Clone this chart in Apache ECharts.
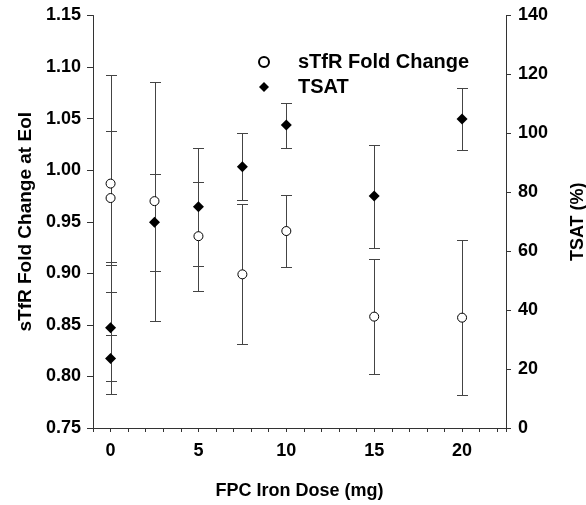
<!DOCTYPE html>
<html>
<head>
<meta charset="utf-8">
<script src="https://cdn.jsdelivr.net/npm/echarts@6/dist/echarts.min.js"></script>
<style>html,body{margin:0;padding:0;background:#fff}#c{width:586px;height:505px}</style>
</head>
<body>
<div id="c"></div>
<script>
// FPC iron dose (mg) for each point
const dose = [0, 0, 2.5, 5, 7.5, 10, 15, 20];
// sTfR fold change at EoI (left axis) and its error
const stfr = [0.987, 0.973, 0.970, 0.936, 0.899, 0.941, 0.858, 0.857];
const stfrErr = [0.105, 0.065, 0.116, 0.053, 0.068, 0.035, 0.056, 0.075];
// TSAT % (right axis) and its error
const tsat = [34.0, 23.6, 69.8, 75.1, 88.7, 102.8, 78.7, 104.9];
const tsatErr = [22.4, 7.8, 16.5, 20.0, 11.3, 7.6, 17.5, 10.5];
// axis ticks
const xTickLabels = [0, 5, 10, 15, 20];
const leftTicks = [0.75, 0.80, 0.85, 0.90, 0.95, 1.00, 1.05, 1.10, 1.15];
const rightTicks = [0, 20, 40, 60, 80, 100, 120, 140];

const FONT = 'Liberation Sans, Arial, sans-serif';
const AX = '#333';
const BAR = '#444';

function errRender(params, api) {
  const x = api.value(0), lo = api.value(1), hi = api.value(2);
  const a = api.coord([x, lo]), b = api.coord([x, hi]);
  const cx = Math.round(a[0]) + 0.5;
  const yl = Math.round(a[1]) + 0.5, yh = Math.round(b[1]) + 0.5;
  const w = 5.5;
  const st = { stroke: BAR, lineWidth: 1 };
  return {
    type: 'group',
    children: [
      { type: 'line', shape: { x1: cx, y1: yl, x2: cx, y2: yh }, style: st },
      { type: 'line', shape: { x1: cx - w, y1: yl, x2: cx + w, y2: yl }, style: st },
      { type: 'line', shape: { x1: cx - w, y1: yh, x2: cx + w, y2: yh }, style: st }
    ]
  };
}

const stfrBars = dose.map((d, i) => [d, stfr[i] - stfrErr[i], stfr[i] + stfrErr[i]]);
const tsatBars = dose.map((d, i) => [d, tsat[i] - tsatErr[i], tsat[i] + tsatErr[i]]);

const labelStyle = { fontFamily: FONT, fontWeight: 'bold', fontSize: 18, color: '#000' };

const chart = echarts.init(document.getElementById('c'), null, { renderer: 'canvas' });
chart.setOption({
  animation: false,
  backgroundColor: '#fff',
  grid: { left: 93, right: 80, top: 15.5, bottom: 77, containLabel: false, outerBoundsMode: 'none' },
  legend: {
    orient: 'vertical',
    left: 253,
    top: 47,
    itemWidth: 10,
    itemHeight: 10,
    itemGap: 5,
    data: [
      { name: 'sTfR Fold Change', icon: 'circle' },
      { name: 'TSAT', icon: 'diamond' }
    ],
    textStyle: { fontFamily: FONT, fontWeight: 'bold', fontSize: 20, color: '#000', lineHeight: 20, padding: [0, 0, 0, 24] }
  },
  xAxis: {
    type: 'value',
    min: -1,
    max: 22.5,
    interval: 1,
    name: 'FPC Iron Dose (mg)',
    nameLocation: 'middle',
    nameGap: 54,
    nameTextStyle: labelStyle,
    axisLine: { show: true, onZero: false, lineStyle: { color: AX, width: 1 } },
    axisTick: { show: true, length: 4, lineStyle: { color: AX } },
    axisLabel: Object.assign({ margin: 14, showMinLabel: true, showMaxLabel: true,
      formatter: v => (xTickLabels.indexOf(Math.round(v * 100) / 100) >= 0 ? String(Math.round(v)) : '') }, labelStyle),
    splitLine: { show: false }
  },
  yAxis: [
    {
      type: 'value',
      position: 'left',
      min: leftTicks[0],
      max: leftTicks[leftTicks.length - 1],
      interval: 0.05,
      name: 'sTfR Fold Change at EoI',
      nameLocation: 'middle',
      nameGap: 51,
      nameTextStyle: Object.assign({}, labelStyle, { fontSize: 19 }),
      axisLine: { show: true, onZero: false, lineStyle: { color: AX, width: 1 } },
      axisTick: { show: true, length: 6, lineStyle: { color: AX } },
      axisLabel: Object.assign({ margin: 12, formatter: v => v.toFixed(2) }, labelStyle),
      splitLine: { show: false }
    },
    {
      type: 'value',
      position: 'right',
      min: rightTicks[0],
      max: rightTicks[rightTicks.length - 1],
      interval: 20,
      name: 'TSAT (%)',
      nameLocation: 'middle',
      nameGap: 63,
      nameTextStyle: labelStyle,
      axisLine: { show: true, onZero: false, lineStyle: { color: AX, width: 1 } },
      axisTick: { show: true, length: 5, lineStyle: { color: AX } },
      axisLabel: Object.assign({ margin: 12 }, labelStyle),
      splitLine: { show: false }
    }
  ],
  series: [
    {
      name: 'sTfR err', type: 'custom', xAxisIndex: 0, yAxisIndex: 0,
      renderItem: errRender, data: stfrBars, encode: { x: 0, y: [1, 2] }, z: 1, silent: true
    },
    {
      name: 'TSAT err', type: 'custom', xAxisIndex: 0, yAxisIndex: 1,
      renderItem: errRender, data: tsatBars, encode: { x: 0, y: [1, 2] }, z: 1, silent: true
    },
    {
      name: 'sTfR Fold Change', type: 'scatter', xAxisIndex: 0, yAxisIndex: 0,
      symbol: 'circle', symbolSize: 9,
      itemStyle: { color: '#fff', borderColor: '#000', borderWidth: 1, opacity: 1 },
      data: dose.map((d, i) => [d, stfr[i]]), z: 3
    },
    {
      name: 'TSAT', type: 'scatter', xAxisIndex: 0, yAxisIndex: 1,
      symbol: 'diamond', symbolSize: 11,
      itemStyle: { color: '#000', opacity: 1 },
      data: dose.map((d, i) => [d, tsat[i]]), z: 3
    }
  ]
});
</script>
</body>
</html>
